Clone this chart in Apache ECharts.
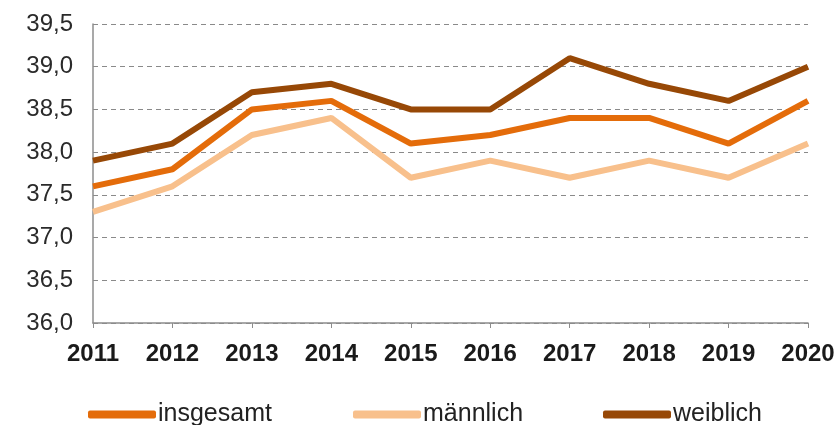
<!DOCTYPE html>
<html>
<head>
<meta charset="utf-8">
<script src="https://cdn.jsdelivr.net/npm/echarts@6/dist/echarts.min.js"></script>
<style>
  html, body { margin: 0; padding: 0; background: #fff; }
  #chart { width: 838px; height: 425px; }
</style>
</head>
<body>
<div id="chart"></div>
<script>
// Daten
var years = ["2011", "2012", "2013", "2014", "2015", "2016", "2017", "2018", "2019", "2020"];
var insgesamt = [37.6, 37.8, 38.5, 38.6, 38.1, 38.2, 38.4, 38.4, 38.1, 38.6];
var maennlich = [37.3, 37.6, 38.2, 38.4, 37.7, 37.9, 37.7, 37.9, 37.7, 38.1];
var weiblich = [37.9, 38.1, 38.7, 38.8, 38.5, 38.5, 39.1, 38.8, 38.6, 39.0];

var seriesNames = ["insgesamt", "männlich", "weiblich"];
var colors = ["#e46c0a", "#f8c08c", "#974806"];

var chart = echarts.init(document.getElementById("chart"));

function legendAt(name, left) {
  return {
    data: [name],
    left: left,
    top: 397,
    icon: "roundRect",
    itemWidth: 68,
    itemHeight: 8,
    itemGap: 0,
    textStyle: {
      fontFamily: "Liberation Sans, Arial, sans-serif",
      fontSize: 25,
      color: "#222",
      padding: [0, 0, 0, -3]
    }
  };
}

var option = {
  animation: false,
  color: colors,
  grid: {
    left: 93,
    right: 30,
    top: 24,
    bottom: 102
  },
  legend: [
    legendAt("insgesamt", 83),
    legendAt("männlich", 348),
    legendAt("weiblich", 598)
  ],
  xAxis: {
    type: "category",
    data: years,
    boundaryGap: false,
    axisLine: { lineStyle: { color: "#8c8c8c", width: 1.5 } },
    axisTick: { show: true, length: 5, lineStyle: { color: "#8c8c8c" } },
    axisLabel: {
      margin: 19,
      fontFamily: "Liberation Sans, Arial, sans-serif",
      fontSize: 24,
      fontWeight: "bold",
      color: "#1a1a1a"
    },
    splitLine: { show: false }
  },
  yAxis: {
    type: "value",
    min: 36,
    max: 39.5,
    interval: 0.5,
    axisLine: { show: true, lineStyle: { color: "#8c8c8c", width: 1.5 } },
    axisTick: { show: false },
    axisLabel: {
      margin: 20,
      fontFamily: "Liberation Sans, Arial, sans-serif",
      fontSize: 24,
      color: "#2a2a2a",
      formatter: function (v) {
        return v.toFixed(1).replace(".", ",");
      }
    },
    splitLine: {
      show: true,
      lineStyle: { color: "#8a8a8a", type: [5, 4], width: 1.2 }
    }
  },
  series: [
    { name: seriesNames[0], type: "line", data: insgesamt, symbol: "none", z: 3,
      lineStyle: { width: 6, color: colors[0] } },
    { name: seriesNames[1], type: "line", data: maennlich, symbol: "none", z: 2,
      lineStyle: { width: 6, color: colors[1] } },
    { name: seriesNames[2], type: "line", data: weiblich, symbol: "none", z: 4,
      lineStyle: { width: 6, color: colors[2] } }
  ]
};

chart.setOption(option);
</script>
</body>
</html>
